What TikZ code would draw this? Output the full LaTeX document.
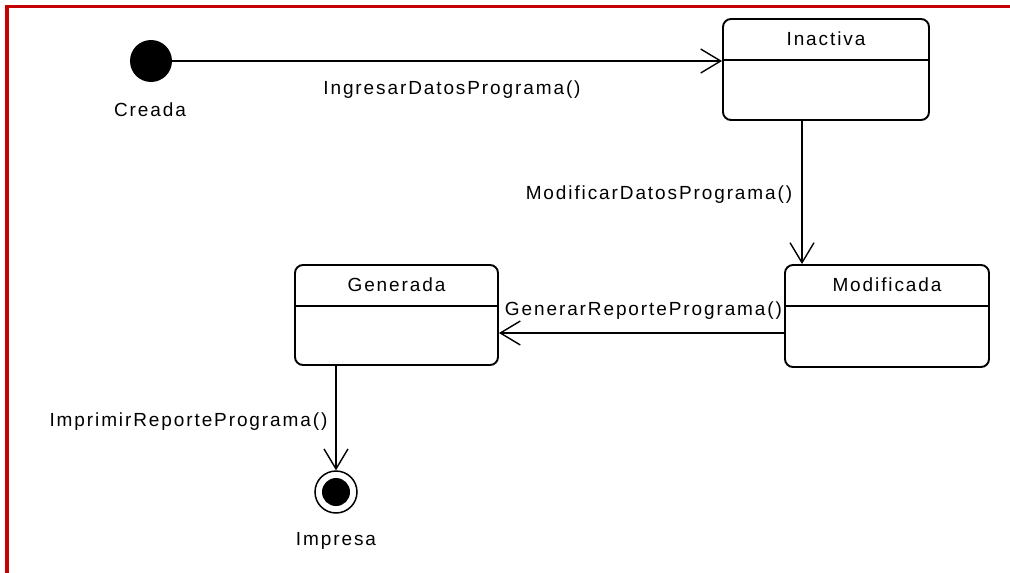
\documentclass[tikz,border=0pt]{standalone}
\usepackage{fontspec}
\setmainfont{Liberation Sans}[LetterSpace=10]
\usetikzlibrary{arrows.meta}

\definecolor{marco}{RGB}{196,0,0}

\tikzset{
    estado/.style={draw, line width=1.9pt, rounded corners=8pt, inner sep=0pt},
    flecha/.style={line width=1.9pt, -{Straight Barb[length=20pt, width=24pt, line width=1.4pt]}},
    etiqueta/.style={font=\fontsize{19}{22}\selectfont, inner sep=0pt}
}

\begin{document}
\begin{tikzpicture}[x=1pt, y=-1pt]
        \useasboundingbox (0,0) rectangle (1010,573);
        \fill[white] (0,0) rectangle (1010,573);

        % marco rojo
        \draw[marco, line width=3.5pt] (7,573) -- (7,6.5) -- (1010,6.5);

        % estados
        \node[circle, fill, minimum size=42pt, inner sep=0pt] (creada) at (151,61) {};
        \node[etiqueta] (lblCreada) at (150,110) {Creada};

        \node[estado, minimum width=206pt, minimum height=101pt] (inactiva) at (826,69.5) {};
        \node[estado, minimum width=204pt, minimum height=102pt] (modificada) at (887,316) {};
        \node[estado, minimum width=203pt, minimum height=100pt] (generada) at (396.5,315) {};

        \foreach \s/\t in {inactiva/Inactiva, modificada/Modificada, generada/Generada} {
            \draw[line width=1.9pt] ([yshift=-42pt]\s.north west) -- ([yshift=-42pt]\s.north east);
            \node[etiqueta] at ([yshift=-21pt]\s.north) {\t};
        }

        \node[circle, draw, line width=1.5pt, minimum size=42pt, inner sep=0pt] (impresa) at (336,492) {};
        \fill (impresa.center) circle (14pt);
        \node[etiqueta] (lblImpresa) at (336,541) {Impresa};

        % transiciones
        \draw[flecha] (creada) -- (creada -| inactiva.west);
        \draw[flecha] ([xshift=-24pt]inactiva.south) -- ([xshift=-24pt]inactiva.south |- modificada.north);
        \draw[flecha] ([yshift=-17pt]modificada.west) -- ([yshift=-17pt]modificada.west -| generada.east);
        \draw[flecha] (impresa |- generada.south) -- (impresa);

        \node[etiqueta] (lblIngresar) at (452,90) {IngresarDatosPrograma()};
        \node[etiqueta] (lblModificar) at (659,195) {ModificarDatosPrograma()};
        \node[etiqueta] (lblGenerar) at (643.5,311) {GenerarReportePrograma()};
        \node[etiqueta] (lblImprimir) at (188.5,422) {ImprimirReportePrograma()};

    \end{tikzpicture}
\end{document}
